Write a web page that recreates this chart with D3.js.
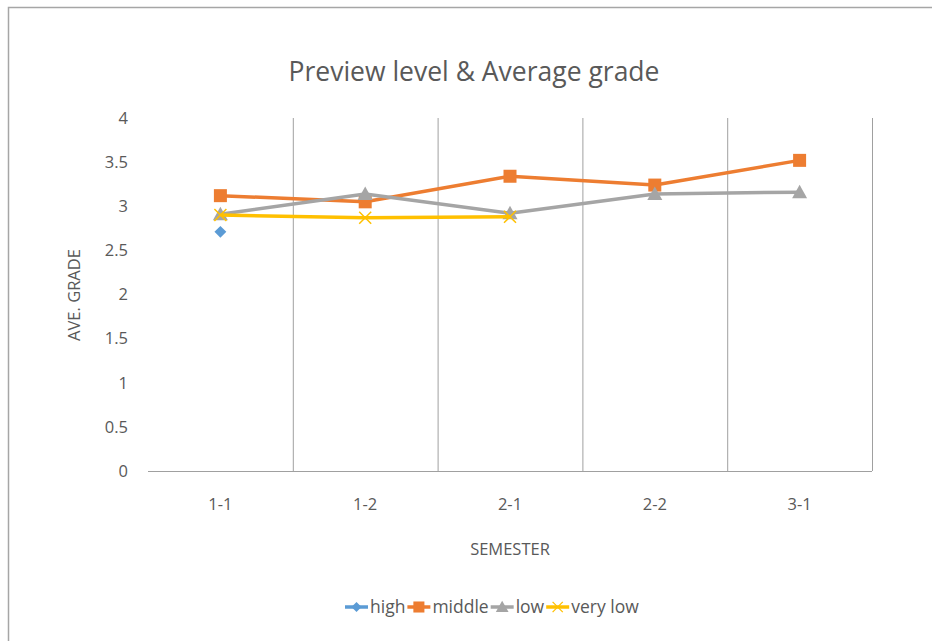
<!DOCTYPE html>
<html>
<head>
<meta charset="utf-8">
<script src="https://cdn.jsdelivr.net/npm/d3@7"></script>
<style>
  html, body { margin: 0; padding: 0; background: #fff; }
  svg { display: block; }
  text { font-family: "Open Sans", Lato, sans-serif; fill: #595959; }
</style>
</head>
<body>
<svg id="chart" width="932" height="641"></svg>
<script>
// Semesters along the x axis
const semesters = ["1-1", "1-2", "2-1", "2-2", "3-1"];
// Average grade per preview level (null = no data that semester)
const high    = [2.71, null, null, null, null];
const middle  = [3.12, 3.05, 3.34, 3.24, 3.52];
const low     = [2.91, 3.14, 2.92, 3.14, 3.16];
const veryLow = [2.90, 2.87, 2.88, null, null];
const yTicks  = [0, 0.5, 1, 1.5, 2, 2.5, 3, 3.5, 4];

const series = [
  { name: "high",     values: high,    color: "#5B9BD5", marker: "diamond" },
  { name: "middle",   values: middle,  color: "#ED7D31", marker: "square" },
  { name: "low",      values: low,     color: "#A5A5A5", marker: "triangle" },
  { name: "very low", values: veryLow, color: "#FFC000", marker: "cross" }
];

const svg = d3.select("#chart");
const plot = { left: 148, right: 872, top: 118, bottom: 471 };
const labelFont = "Open Sans, Lato, sans-serif";
const labelSize = "16.5px";

// outer chart frame
svg.append("rect")
  .attr("x", 8.5).attr("y", 7.5)
  .attr("width", 940).attr("height", 660)
  .attr("fill", "none").attr("stroke", "#a6a6a6").attr("stroke-width", 1.5);

const x = d3.scaleBand().domain(semesters).range([plot.left, plot.right]).padding(0);
const y = d3.scaleLinear().domain([0, 4]).range([plot.bottom, plot.top]);

// vertical gridlines at category boundaries
const bounds = semesters.slice(1).map(s => x(s)).concat([plot.right]);
svg.append("g").selectAll("line").data(bounds).join("line")
  .attr("x1", d => d + 0.5).attr("x2", d => d + 0.5)
  .attr("y1", plot.top).attr("y2", plot.bottom)
  .attr("stroke", "#a0a0a0").attr("stroke-width", 1);

// horizontal category axis line
svg.append("line")
  .attr("x1", plot.left).attr("x2", plot.right)
  .attr("y1", plot.bottom + 0.5).attr("y2", plot.bottom + 0.5)
  .attr("stroke", "#a0a0a0").attr("stroke-width", 1);

// y axis labels
const yAxis = svg.append("g")
  .attr("transform", `translate(${plot.left - 20},0)`)
  .call(d3.axisLeft(y).tickValues(yTicks).tickSize(0).tickPadding(0).tickFormat(d3.format("")));
yAxis.select(".domain").remove();
yAxis.selectAll("text").style("font-size", labelSize).attr("fill", "#595959")
  .style("font-family", labelFont);

// x axis labels
const xAxis = svg.append("g")
  .attr("transform", `translate(0,${plot.bottom})`)
  .call(d3.axisBottom(x).tickSize(0).tickPadding(27));
xAxis.select(".domain").remove();
xAxis.selectAll("text").style("font-size", labelSize).attr("fill", "#595959")
  .style("font-family", labelFont);

// titles
svg.append("text").attr("x", 474).attr("y", 81).attr("text-anchor", "middle")
  .style("font-size", "26.5px").text("Preview level & Average grade");
svg.append("text").attr("x", 510).attr("y", 555).attr("text-anchor", "middle")
  .style("font-size", labelSize).text("SEMESTER");
svg.append("text").attr("transform", "translate(80,295) rotate(-90)").attr("text-anchor", "middle")
  .style("font-size", labelSize).text("AVE. GRADE");

const cx = d => x(d) + x.bandwidth() / 2;

function drawMarker(g, type, color) {
  if (type === "diamond") {
    g.append("path").attr("d", d3.symbol(d3.symbolDiamond2, 90)()).attr("fill", color);
  } else if (type === "square") {
    g.append("rect").attr("x", -6.5).attr("y", -6.5).attr("width", 13).attr("height", 13).attr("fill", color);
  } else if (type === "triangle") {
    g.append("path").attr("d", "M0,-7.5L7.5,6L-7.5,6Z").attr("fill", color);
  } else {
    g.append("path").attr("d", "M-6,-6L6,6M-6,6L6,-6").attr("stroke", color).attr("stroke-width", 1.5).attr("fill", "none");
  }
}

const line = d3.line()
  .defined(d => d.v !== null)
  .x(d => cx(d.s)).y(d => y(d.v));

series.forEach(s => {
  const pts = semesters.map((sem, i) => ({ s: sem, v: s.values[i] }));
  svg.append("path").datum(pts)
    .attr("d", line).attr("fill", "none")
    .attr("stroke", s.color).attr("stroke-width", 3.5).attr("stroke-linejoin", "round");
  pts.filter(p => p.v !== null).forEach(p => {
    const g = svg.append("g").attr("transform", `translate(${cx(p.s)},${y(p.v)})`);
    drawMarker(g, s.marker, s.color);
  });
});

// legend
const legend = svg.append("g").attr("transform", "translate(345,607)");
let lx = 0;
series.forEach(s => {
  const item = legend.append("g").attr("transform", `translate(${lx},0)`);
  item.append("line").attr("x1", 0).attr("x2", 23).attr("y1", 0).attr("y2", 0)
    .attr("stroke", s.color).attr("stroke-width", 3.5);
  const m = item.append("g").attr("transform", "translate(11.5,0) scale(0.85)");
  drawMarker(m, s.marker, s.color);
  const t = item.append("text").attr("x", 25).attr("y", 6).style("font-size", "17.5px").text(s.name);
  lx += 25 + t.node().getComputedTextLength() + 2;
});
</script>
</body>
</html>
